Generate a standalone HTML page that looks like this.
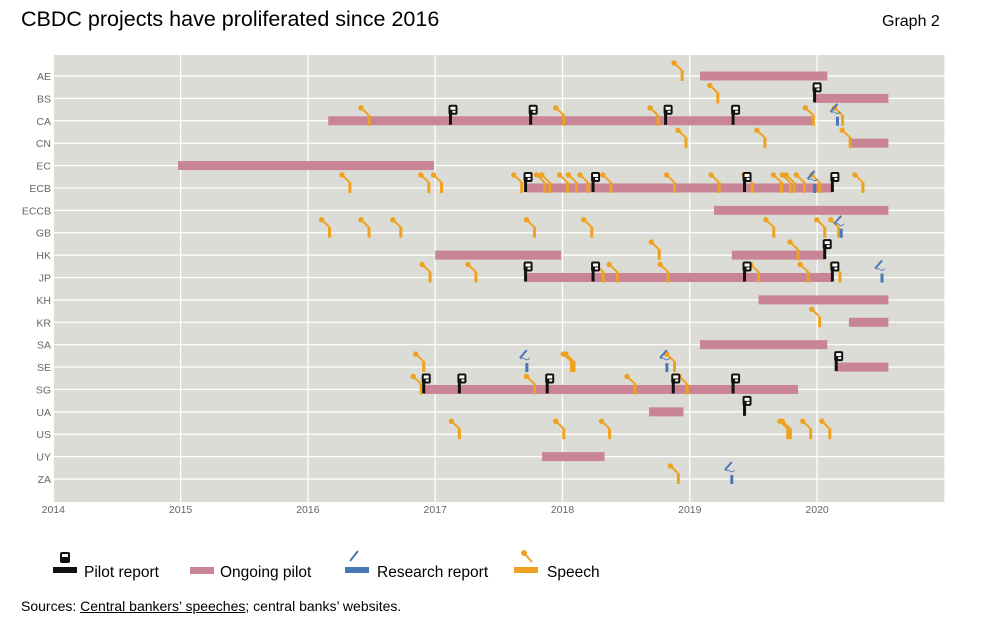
<!DOCTYPE html>
<html><head><meta charset="utf-8">
<style>
body{margin:0;background:#fff;width:996px;height:626px;overflow:hidden;font-family:"Liberation Sans",sans-serif;}
#title{position:absolute;left:21px;top:7px;font-size:21.5px;color:#000;}
#graph{position:absolute;left:882px;top:13px;font-size:16px;color:#000;}
#src{position:absolute;left:21px;top:598px;font-size:14px;color:#000;}
svg{position:absolute;left:0;top:0;}
</style></head><body>
<div id="title">CBDC projects have proliferated since 2016</div>
<div id="graph">Graph 2</div>
<div id="src">Sources: <u>Central bankers’ speeches</u>; central banks’ websites.</div>
<svg id="chart" width="996" height="626"></svg>
<script>
const countries=["AE","BS","CA","CN","EC","ECB","ECCB","GB","HK","JP","KH","KR","SA","SE","SG","UA","US","UY","ZA"];
const yearTicks=[2014,2015,2016,2017,2018,2019,2020];
const pilots=[["AE",2019.08,2020.08],["BS",2019.98,2020.56],["CA",2016.16,2019.97],["CN",2020.26,2020.56],["EC",2014.98,2016.99],["ECB",2017.71,2020.12],["ECCB",2019.19,2020.56],["HK",2017.0,2017.99],["HK",2019.33,2020.06],["JP",2017.71,2020.12],["KH",2019.54,2020.56],["KR",2020.25,2020.56],["SA",2019.08,2020.08],["SE",2020.15,2020.56],["SG",2016.91,2019.85],["UA",2018.68,2018.95],["UY",2017.84,2018.33]];
const speeches=[["AE",2018.94],["BS",2019.22],["CA",2016.48],["CA",2018.01],["CA",2018.75],["CA",2019.97],["CA",2020.2],["CN",2018.97],["CN",2019.59],["CN",2020.26],
["ECB",2016.33],["ECB",2016.95],["ECB",2017.05],["ECB",2017.68],["ECB",2017.86],["ECB",2017.9],["ECB",2018.04],["ECB",2018.11],["ECB",2018.2],["ECB",2018.38],["ECB",2018.88],["ECB",2019.23],["ECB",2019.49],["ECB",2019.72],["ECB",2019.79],["ECB",2019.82],["ECB",2019.9],["ECB",2020.02],["ECB",2020.36],
["GB",2016.17],["GB",2016.48],["GB",2016.73],["GB",2017.78],["GB",2018.23],["GB",2019.66],["GB",2020.06],["GB",2020.17],
["HK",2018.76],["HK",2019.85],["JP",2016.96],["JP",2017.32],["JP",2018.32],["JP",2018.43],["JP",2018.83],["JP",2019.54],["JP",2019.93],["JP",2020.18],
["KR",2020.02],["SE",2016.91],["SE",2018.07],["SE",2018.09],["SE",2018.88],["SG",2016.89],["SG",2017.78],["SG",2018.57],["SG",2018.98],
["US",2017.19],["US",2018.01],["US",2018.37],["US",2019.77],["US",2019.79],["US",2019.95],["US",2020.1],["ZA",2018.91]];
const reports=[["BS",2019.98],["CA",2017.12],["CA",2017.75],["CA",2018.81],["CA",2019.34],["ECB",2017.71],["ECB",2018.24],["ECB",2019.43],["ECB",2020.12],["HK",2020.06],["JP",2017.71],["JP",2018.24],["JP",2019.43],["JP",2020.12],["SE",2020.15],["SG",2016.91],["SG",2017.19],["SG",2017.88],["SG",2018.87],["SG",2019.34],["UA",2019.43]];
const research=[["CA",2020.16],["ECB",2019.98],["GB",2020.19],["JP",2020.51],["SE",2017.72],["SE",2018.82],["ZA",2019.33]];

const NS="http://www.w3.org/2000/svg";
const svg=document.getElementById('chart');
const X0=53.3,X1=944.4,Y0=55,Y1=502;
const x=d=>X0+(d-2014)/7*(X1-X0);
const y=c=>76+countries.indexOf(c)*22.39;
function mk(tag,attrs,parent){const e=document.createElementNS(NS,tag);for(const k in attrs)e.setAttribute(k,attrs[k]);(parent||svg).appendChild(e);return e;}
const C_OR="#efa21f",C_BL="#4a78b5",C_PK="#c98495";
let e=mk('rect',{x:X0,y:Y0,width:X1-X0,height:Y1-Y0,fill:"#dcdcd6"});


yearTicks.forEach(t=>{
  let g=mk('line',{x1:x(t),x2:x(t),y1:Y0,y2:Y1,stroke:"#fff","stroke-width":1.2});
  
  
  let l=mk('text',{x:x(t),y:513,"font-size":10.5,fill:"#666","text-anchor":"middle"});
  l.textContent=t;
  
  
});
countries.forEach(c=>{
  let g=mk('line',{x1:X0,x2:X1,y1:y(c),y2:y(c),stroke:"#fff","stroke-width":1.2});
  
  
  let l=mk('text',{x:51,y:y(c)+4,"font-size":10.5,fill:"#666","text-anchor":"end"});
  l.textContent=c;
  
  
});
pilots.forEach(p=>{
  let r=mk('rect',{x:x(p[1]),y:y(p[0])-4.5,width:x(p[2])-x(p[1]),height:9,fill:C_PK});
  
  
});
function speech(px,py,g){
  mk('rect',{x:px-1.5,y:py-6,width:3,height:11,fill:C_OR},g);
  mk('line',{x1:px-8,y1:py-13,x2:px-0.5,y2:py-6,stroke:C_OR,"stroke-width":2},g);
  mk('circle',{cx:px-8,cy:py-13,r:2.7,fill:C_OR},g);
}
function report(px,py,g){
  mk('rect',{x:px-1.5,y:py-9,width:3,height:13,fill:"#111"},g);
  mk('rect',{x:px-2,y:py-16,width:9,height:10,rx:2,fill:"#111"},g);
  mk('rect',{x:px,y:py-14,width:5,height:3,fill:"#fff"},g);
  mk('rect',{x:px+2,y:py-10,width:3,height:2,fill:"#fff"},g);
}
function resrch(px,py,g){
  mk('rect',{x:px-1.5,y:py-4,width:3,height:9,fill:C_BL},g);
  mk('line',{x1:px-7,y1:py-9,x2:px,y2:py-17,stroke:C_BL,"stroke-width":2},g);
  mk('path',{d:`M${px-6} ${py-8} q2 -2 4 0 q2 2 5 -1`,stroke:C_BL,fill:"none","stroke-width":0.8},g);
}
speeches.forEach(s=>{const g=mk('g',{});
  
  
  speech(x(s[1]),y(s[0]),g);});
research.forEach(s=>{const g=mk('g',{});
  
  
  resrch(x(s[1]),y(s[0]),g);});
reports.forEach(s=>{const g=mk('g',{});
  
  
  report(x(s[1]),y(s[0]),g);});
function legendText(tx,t){let l=mk('text',{x:tx,y:577,"font-size":15.5,fill:"#000","font-weight":"500"});l.textContent=t;
  
  }
let lg=mk('g',{});


mk('rect',{x:53,y:567,width:24,height:6,fill:"#111"},lg);
mk('rect',{x:60,y:552,width:10,height:11,rx:2,fill:"#111"},lg);
mk('rect',{x:62,y:554,width:6,height:3,fill:"#fff"},lg);
legendText(84,"Pilot report");
lg=mk('g',{});


mk('rect',{x:190,y:567,width:24,height:7,fill:C_PK},lg);
legendText(220,"Ongoing pilot");
lg=mk('g',{});


mk('rect',{x:345,y:567,width:24,height:6,fill:C_BL},lg);
mk('line',{x1:350,y1:561,x2:358,y2:551,stroke:C_BL,"stroke-width":2},lg);
legendText(377,"Research report");
lg=mk('g',{});


mk('rect',{x:514,y:567,width:24,height:6,fill:C_OR},lg);
mk('line',{x1:524,y1:553,x2:532,y2:562,stroke:C_OR,"stroke-width":2},lg);
mk('circle',{cx:524,cy:553,r:3,fill:C_OR},lg);
legendText(547,"Speech");
</script>
</body></html>
